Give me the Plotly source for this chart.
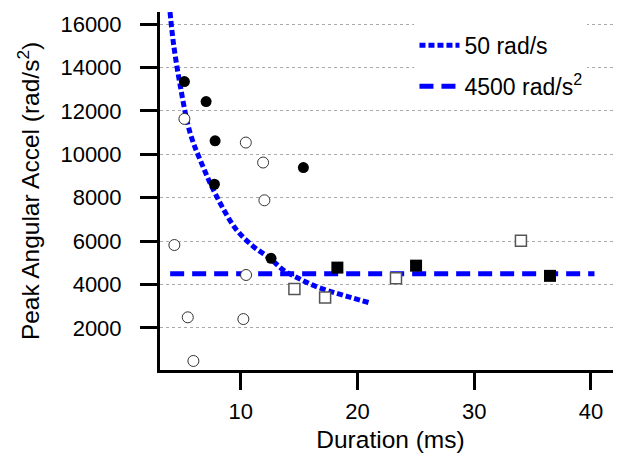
"""
Peak angular acceleration vs. pulse duration, with the 50 rad/s and
4500 rad/s^2 reference lines.
"""

import plotly.graph_objects as go

# filled circles
filled_circle_x = [5.18, 7.04, 7.81, 7.75, 15.37, 12.6]
filled_circle_y = [13350, 12430, 10620, 8620, 9390, 5210]

# open circles
open_circle_x = [5.18, 10.44, 11.92, 12.03, 4.32, 10.46, 5.47, 10.23, 5.95]
open_circle_y = [11630, 10540, 9620, 7880, 5820, 4440, 2490, 2410, 480]

# filled squares
filled_square_x = [18.28, 25.02, 36.49]
filled_square_y = [4780, 4870, 4400]

# open squares
open_square_x = [14.6, 17.23, 23.3, 34.0]
open_square_y = [3800, 3400, 4290, 6020]

# 50 rad/s curve
curve_x = [3.95, 4.24, 4.81, 5.67, 6.78, 7.95, 9.6, 11.09, 12.5, 13.65,
           14.94, 16.5, 18.2, 19.65, 21.1]
curve_y = [16550, 15120, 13200, 10980, 9420, 8050, 6550, 5750, 5210, 4670,
           4290, 3900, 3600, 3370, 3150]

# 4500 rad/s^2 level
level_x = [3.96, 40.3]
level_y = [4500, 4500]

x_ticks = [10, 20, 30, 40]
y_ticks = [2000, 4000, 6000, 8000, 10000, 12000, 14000, 16000]

FONT = "Arial, Liberation Sans, sans-serif"

fig = go.Figure()

fig.add_trace(go.Scatter(
    x=curve_x, y=curve_y, mode="lines", name="50 rad/s", legendgroup="a",
    line=dict(color="#0000ff", width=5, dash="6px,3px", shape="spline"),
))
fig.add_trace(go.Scatter(
    x=level_x, y=level_y, mode="lines", name="4500 rad/s<sup>2</sup>",
    legendgroup="b",
    line=dict(color="#0000ff", width=5, dash="14px,8px"),
))

fig.add_trace(go.Scatter(
    x=open_circle_x, y=open_circle_y, mode="markers", showlegend=False,
    marker=dict(symbol="circle", size=11, color="white",
                line=dict(color="#333333", width=1)),
))
fig.add_trace(go.Scatter(
    x=open_square_x, y=open_square_y, mode="markers", showlegend=False,
    marker=dict(symbol="square", size=11, color="white",
                line=dict(color="#555555", width=1.5)),
))
fig.add_trace(go.Scatter(
    x=filled_circle_x, y=filled_circle_y, mode="markers", showlegend=False,
    marker=dict(symbol="circle", size=11, color="black"),
))
fig.add_trace(go.Scatter(
    x=filled_square_x, y=filled_square_y, mode="markers", showlegend=False,
    marker=dict(symbol="square", size=12, color="black"),
))

# page body has an 8px margin, so the figure is a little smaller than the window
fig.update_layout(
    template="none",
    width=613,
    height=446,
    margin=dict(l=152, r=0, t=4, b=84, autoexpand=False),
    paper_bgcolor="white",
    plot_bgcolor="white",
    font=dict(family=FONT, size=22, color="black"),
    showlegend=True,
    legend=dict(
        x=0.552, y=0.967, xanchor="left", yanchor="top",
        bgcolor="white", font=dict(size=23), itemwidth=40,
        tracegroupgap=8, borderwidth=0,
    ),
)

fig.update_xaxes(
    range=[3.09, 42.57],
    tickvals=x_ticks, tickformat="d", ticklabelstandoff=3,
    ticks="outside", ticklen=17, tickwidth=3, tickcolor="black",
    showline=True, linewidth=3, linecolor="black",
    showgrid=False, zeroline=False, automargin=False,
    title=dict(text="Duration (ms)", font=dict(size=24.5), standoff=8),
)
fig.update_yaxes(
    range=[64, 16553],
    tickvals=y_ticks, tickformat="d", ticklabelstandoff=14,
    ticks="outside", ticklen=17, tickwidth=3, tickcolor="black",
    showline=True, linewidth=3, linecolor="black",
    showgrid=True, gridcolor="#aaaaaa", gridwidth=1, griddash="3px,3px",
    zeroline=False, automargin=False,
    title=dict(text="Peak Angular Accel (rad/s<sup>2</sup>)",
               font=dict(size=24.5), standoff=14),
)

fig.write_html("out.html")
